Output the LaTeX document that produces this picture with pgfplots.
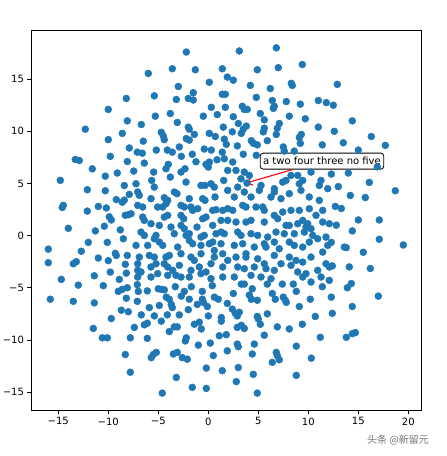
\documentclass[border=0pt]{standalone}
\usepackage{fontspec}
\setmainfont{DejaVu Sans}
\newfontfamily\cjk{Noto Sans CJK SC}
\usepackage{pgfplots}
\usepackage{pgfplotstable}
\pgfplotsset{compat=1.18}
\usetikzlibrary{arrows.meta}
\definecolor{mplblue}{HTML}{1F77B4}
\pgfplotstableread{
x y
-8.2 13.15
-10.0 12.1
-8.1 11.0
-12.3 10.2
-8.6 9.8
-10.0 9.2
-7.9 8.4
-9.8 7.6
-2.2 17.6
-6.0 15.55
-3.6 16.0
-1.3 15.9
1.4 16.0
1.9 15.2
0.1 14.7
-3.0 14.3
-5.4 13.4
-1.5 13.7
-2.0 13.15
-1.5 13.0
-3.2 13.05
1.4 13.55
1.7 13.55
0.3 12.3
1.7 12.3
-3.8 11.7
-5.3 11.45
-0.5 11.45
0.9 11.6
-3.1 10.85
-6.7 10.65
-2.0 10.4
-1.9 10.2
1.5 10.4
-4.7 9.9
-4.5 9.55
-4.4 9.2
-1.4 9.7
0.1 9.8
0.7 9.5
1.6 9.25
-2.2 9.3
-1.9 9.15
-6.5 9.05
1.8 8.75
-7.1 8.0
-6.6 7.9
-5.2 8.2
-4.1 8.2
-3.6 8.0
-2.9 8.5
-1.6 7.8
-0.4 8.3
0.3 8.2
1.4 8.0
-2.7 7.6
6.8 18.0
3.1 17.7
9.4 16.4
7.0 16.1
4.9 15.9
2.5 14.9
4.2 14.4
6.2 14.1
8.3 14.6
8.4 14.4
4.8 13.25
6.4 12.95
6.6 12.4
6.5 12.2
7.8 12.85
9.2 12.6
11.0 12.95
11.8 12.75
3.4 12.4
3.6 12.1
3.9 12.1
5.2 11.7
2.5 11.4
8.1 11.45
5.6 11.1
9.7 11.2
7.1 10.75
6.9 10.3
3.0 10.75
3.8 10.5
3.5 10.2
3.3 9.8
5.6 10.3
5.5 9.95
2.4 9.95
11.0 10.4
9.3 9.7
9.1 9.4
6.8 9.7
5.9 9.1
4.3 9.1
4.5 8.85
4.9 8.7
9.2 8.85
11.4 8.7
2.9 8.6
7.5 8.5
7.6 8.1
8.6 8.1
3.5 7.8
4.8 7.7
12.9 14.5
12.5 12.5
14.4 11.0
12.6 10.0
13.5 8.9
16.3 9.5
17.7 8.65
15.0 8.2
14.0 6.0
16.9 6.6
16.1 5.1
12.3 5.9
13.0 4.7
18.7 4.3
14.2 3.85
15.7 3.65
12.7 2.8
13.3 2.6
15.0 1.5
17.1 1.5
12.8 1.0
14.4 0.45
17.1 -0.35
12.3 -0.65
19.5 -0.9
13.6 -1.1
13.8 -1.15
15.5 -1.6
12.4 -2.9
14.1 -3.0
16.2 -3.15
14.3 -4.6
13.9 -5.0
12.3 -5.9
17.0 -5.8
14.4 -6.8
12.4 -7.45
13.8 -9.75
14.4 -9.4
14.7 -9.3
-13.0 -4.75
-10.5 -4.8
-15.8 -6.1
-13.5 -6.3
-11.4 -6.45
-9.0 -5.35
-8.6 -5.15
-8.1 -5.0
-8.2 -6.0
-8.7 -7.15
-8.0 -7.3
-9.7 -7.95
-11.5 -8.9
-10.6 -9.8
-10.1 -9.8
-7.8 -9.8
-8.3 -11.4
-7.8 -13.1
-7.1 -4.7
-7.0 -5.35
-6.1 -5.3
-5.0 -5.1
-4.7 -5.15
-4.4 -5.2
-3.3 -4.9
-2.4 -5.35
-2.7 -5.8
-1.7 -4.9
-0.6 -5.35
0.4 -4.8
-7.1 -6.3
-4.2 -5.9
-3.9 -6.1
-3.7 -6.6
-3.6 -6.9
-1.9 -6.1
-0.6 -6.1
-0.5 -6.4
0.6 -5.9
1.0 -6.1
1.9 -6.5
-5.9 -6.9
-4.9 -6.7
-6.7 -7.6
-5.4 -7.7
-4.1 -7.6
-2.9 -7.6
-2.0 -7.1
-1.1 -6.6
-0.1 -6.8
0.0 -7.7
1.3 -7.85
1.3 -8.2
-4.7 -8.2
-6.4 -8.55
-6.1 -8.4
-7.4 -8.8
-3.4 -8.75
-3.1 -8.75
-3.9 -9.2
-1.4 -8.5
-0.9 -8.3
-0.7 -8.95
-6.1 -9.85
-2.2 -9.8
-2.3 -10.1
-1.0 -10.5
0.2 -10.3
1.1 -9.6
1.8 -9.5
-5.7 -11.7
-5.5 -11.4
-5.2 -11.2
-3.5 -11.35
-3.1 -11.2
-2.6 -11.7
-2.1 -11.85
0.5 -11.5
1.9 -11.05
-0.2 -12.7
1.4 -12.95
-3.2 -13.6
-1.6 -14.55
-0.2 -14.65
-4.6 -15.1
2.5 -5.55
3.3 -4.65
3.6 -4.65
4.4 -5.1
4.1 -5.7
4.3 -6.1
4.9 -6.2
5.9 -4.65
7.4 -4.65
8.5 -4.65
6.4 -5.55
6.7 -6.1
7.5 -5.9
7.7 -6.2
7.8 -6.4
8.8 -5.35
10.2 -6.1
11.4 -4.9
9.1 -6.8
2.4 -7.05
2.7 -7.45
2.9 -7.7
3.1 -7.35
4.9 -7.75
5.0 -8.0
5.2 -8.5
5.9 -7.5
10.7 -7.75
2.9 -8.8
3.3 -8.6
3.6 -8.9
6.9 -8.75
8.1 -8.95
9.4 -8.5
5.6 -9.55
11.2 -9.75
2.9 -10.4
3.0 -10.65
4.6 -10.4
4.4 -11.35
6.8 -11.2
6.9 -11.5
7.1 -11.9
6.4 -12.15
8.8 -10.6
10.3 -11.75
3.0 -12.65
4.5 -13.3
2.8 -14.0
8.8 -13.4
4.9 -15.1
-13.3 7.3
-12.9 7.2
-8.1 7.1
-11.6 6.4
-9.1 6.0
-10.3 5.7
-14.8 5.3
-8.4 4.8
-12.1 4.4
-10.3 4.3
-7.9 3.95
-9.2 3.45
-8.6 3.2
-8.4 3.4
-14.5 2.9
-14.6 2.7
-11.0 2.8
-10.2 2.65
-12.1 2.35
-9.9 1.8
-9.7 1.5
-8.3 1.95
-8.0 2.0
-14.0 0.7
-10.4 0.9
-11.3 0.45
-8.8 0.55
-8.5 -0.3
-12.0 -0.65
-10.1 -0.65
-16.0 -1.3
-12.7 -1.5
-9.3 -1.7
-9.2 -1.9
-8.1 -1.9
-16.0 -2.6
-13.5 -2.7
-13.2 -2.5
-11.0 -2.15
-10.0 -2.4
-8.3 -2.75
-9.8 -3.5
-8.2 -3.6
-14.7 -4.2
-11.4 -3.85
-8.9 -4.2
-7.46 6.19
-6.40 6.95
-5.46 6.09
-5.66 5.29
-5.40 4.65
-4.23 6.41
-4.0 6.83
-2.73 6.09
-2.33 6.41
-1.23 7.08
-0.23 6.83
0.1 7.05
0.0 6.57
0.87 7.27
1.6 7.37
1.94 6.25
1.54 5.29
-3.8 5.61
-2.23 5.13
-0.73 4.81
-0.33 4.81
0.27 4.97
0.6 4.65
-7.23 4.97
-7.06 4.18
-6.9 3.86
-3.4 4.18
-3.13 4.02
-1.9 3.54
-5.73 3.54
-4.4 3.63
-4.06 3.38
-0.56 3.54
-0.33 3.38
0.67 3.7
1.94 4.34
-7.06 2.9
-6.56 2.74
-5.06 2.74
-4.56 2.74
-4.23 3.06
-2.73 2.9
-2.4 2.74
-1.73 2.74
-1.56 2.42
-1.06 2.58
0.44 2.42
0.77 2.48
1.44 2.42
1.94 2.58
-6.56 1.78
-6.4 1.46
-4.4 1.78
-4.06 1.94
-2.73 1.94
-2.46 1.62
-0.56 1.62
-0.23 1.78
1.94 1.46
-7.73 2.1
-5.73 1.14
-4.9 0.98
-3.73 0.82
-2.73 0.98
-2.4 0.66
-1.13 0.82
0.44 0.98
1.27 1.46
-6.73 0.34
-6.4 0.02
-5.23 0.02
-5.4 -0.3
-3.4 0.18
-2.23 0.02
-1.9 0.18
-0.73 -0.14
-0.4 0.02
0.77 0.18
1.27 0.34
1.6 0.18
-7.23 -0.94
-6.06 -0.94
-4.9 -0.62
-4.56 -0.94
-3.06 -1.1
-1.9 -0.46
-1.56 -0.78
-0.73 -0.94
0.1 -0.78
0.44 -0.62
1.27 -0.78
-6.9 -2.06
-7.06 -2.7
-5.9 -1.9
-5.4 -2.06
-4.23 -2.06
-3.9 -1.9
-2.73 -1.74
-1.73 -2.06
-1.4 -2.38
-0.73 -1.74
0.6 -1.42
0.6 -2.06
1.44 -1.74
1.94 -2.38
-7.06 -3.33
-6.73 -3.49
-5.73 -3.01
-5.23 -2.7
-4.4 -2.7
-4.06 -3.01
-3.56 -3.33
-2.9 -2.85
-1.73 -3.33
-0.9 -3.01
-0.23 -3.49
0.27 -2.7
1.44 -3.01
-7.06 -3.97
-5.73 -3.97
-5.06 -3.65
-4.06 -3.81
-3.23 -3.81
-2.73 -3.97
-1.9 -3.97
-0.73 -3.65
0.27 -4.13
1.44 -3.97
2.44 7.05
2.77 6.25
3.6 6.09
4.1 5.77
3.27 5.45
3.87 5.04
2.94 4.65
5.27 4.81
5.1 4.34
6.6 4.5
6.6 4.18
7.44 5.13
7.77 5.29
8.27 5.77
8.94 5.77
9.1 4.97
9.44 5.29
10.27 6.09
11.1 4.81
11.27 5.29
11.94 4.5
2.6 3.7
3.6 4.18
4.27 3.7
6.27 3.7
7.27 3.54
8.1 4.02
9.27 4.34
10.1 3.7
11.1 3.38
2.44 2.42
3.44 2.9
3.77 2.74
4.77 2.74
5.44 2.74
5.6 2.42
6.6 1.94
7.44 2.26
8.27 2.42
9.1 2.42
10.1 2.58
11.44 2.42
2.77 1.3
3.77 1.3
4.27 1.46
5.6 1.3
6.94 1.62
7.77 0.98
8.1 0.98
8.94 1.14
9.44 1.46
9.77 0.82
9.94 1.14
10.27 0.66
10.77 1.94
11.44 1.3
12.1 1.14
2.94 0.34
3.27 0.02
4.27 0.18
4.94 0.02
5.94 -0.14
6.77 0.34
7.6 0.18
8.6 0.18
9.6 0.34
10.44 0.02
11.77 -0.14
2.6 -0.94
3.44 -0.78
3.77 -1.74
4.6 -1.1
5.6 -0.78
5.77 -1.1
6.6 -0.62
7.1 -1.26
8.1 -0.62
8.6 -0.94
9.44 -1.1
10.1 -0.62
10.94 -0.3
11.94 -0.94
2.77 -2.06
3.77 -2.06
4.94 -2.22
5.6 -2.7
6.6 -1.9
7.27 -2.7
8.1 -2.06
8.77 -2.38
9.44 -2.54
10.27 -2.06
11.44 -1.58
11.77 -2.7
2.94 -3.01
3.6 -3.17
4.6 -3.01
5.77 -3.17
6.6 -3.33
8.27 -2.85
8.94 -3.49
9.77 -3.65
10.94 -3.33
12.1 -3.01
2.6 -3.97
4.27 -3.81
5.27 -3.97
6.27 -4.13
9.44 -3.97
10.27 -4.45
11.27 -3.97
12.1 -4.29
}\pts
\begin{document}
\begin{tikzpicture}[x=1pt,y=1pt]
\useasboundingbox (0,0) rectangle (447,456);
\begin{axis}[
  at={(31,43.5)}, anchor=south west, scale only axis,
  width=390.5pt, height=380.5pt,
  xmin=-17.73, xmax=21.32, ymin=-16.78, ymax=19.70,
  xtick={-15,-10,-5,0,5,10,15,20},
  xticklabels={−15,−10,−5,0,5,10,15,20},
  ytick={-15,-10,-5,0,5,10,15},
  yticklabels={−15,−10,−5,0,5,10,15},
  tick align=outside, tick pos=left,
  major tick length=3.5pt,
  tick style={black, line width=0.8pt},
  axis line style={line width=0.8pt},
  ticklabel style={font=\fontsize{10}{12}\selectfont},
  /pgf/number format/assume math mode=true,
]
\addplot[only marks, mark=*, mark size=3.5pt, color=mplblue, mark options={draw=mplblue, fill=mplblue}] table[x=x, y=y] {\pts};
\node[draw=black, fill=white, rounded corners=3pt, inner sep=3pt, line width=0.8pt, minimum height=16pt,
  font=\fontsize{10}{12}\selectfont] (ann) at (axis cs:11.37,7.14) {a two four three no five};
\draw[red, line width=1.1pt, -{Straight Barb[length=5pt,width=8pt,line width=1.1pt]}] (ann) -- (axis cs:3.8,5.05);
\end{axis}
\node[anchor=west, text=black!55, font=\cjk\fontsize{10}{12}\selectfont, inner sep=0pt] at (367,16) {头条 @新留元};
\end{tikzpicture}
\end{document}
